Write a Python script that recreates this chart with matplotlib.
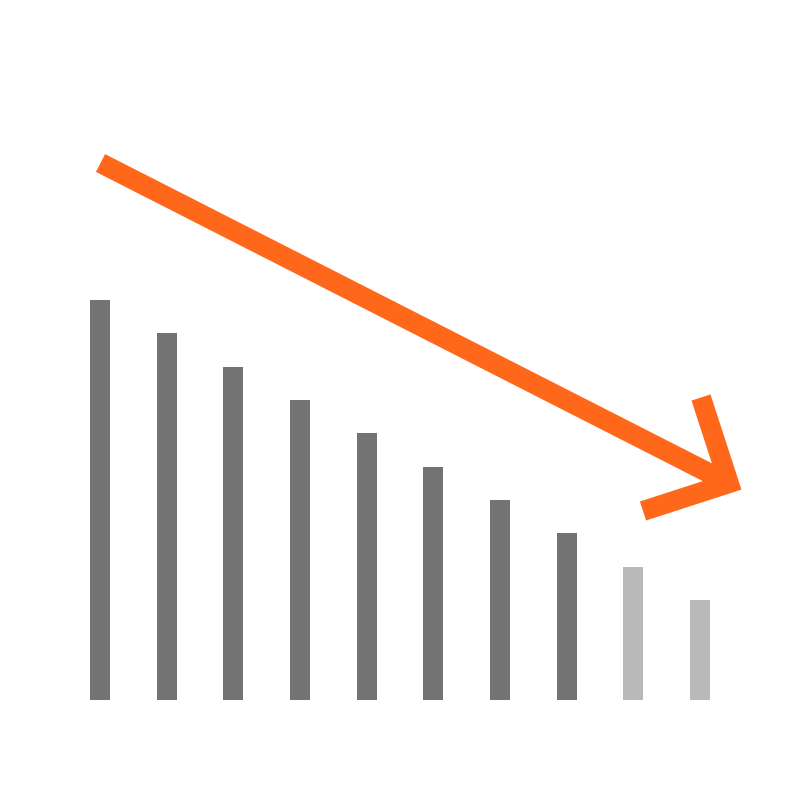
import matplotlib.pyplot as plt

# valores de las barras (descendentes)
posiciones = [1, 2, 3, 4, 5, 6, 7, 8, 9, 10]
valores = [12, 11, 10, 9, 8, 7, 6, 5, 4, 3]
colores = ['#737373'] * 8 + ['#b9b9b9'] * 2

# flecha de tendencia
linea_x = [1.0075, 10.433]
linea_y = [16.11, 6.505]
punta_x = [10.015, 10.433, 9.145]
punta_y = [9.075, 6.505, 5.67]

fig = plt.figure(figsize=(8, 8), dpi=100)
ax = fig.add_axes([0, 0, 1, 1])

ax.bar(posiciones, valores, width=0.3, color=colores)

ax.plot(linea_x, linea_y, color='#ff671b', linewidth=14.4, solid_capstyle='butt')
ax.plot(punta_x, punta_y, color='#ff671b', linewidth=14.4,
        solid_capstyle='butt', solid_joinstyle='miter')

ax.set_xlim(-0.5, 11.5)
ax.set_ylim(-3, 21)
ax.axis('off')

plt.savefig('out.png', dpi=100, facecolor='white')
plt.close()
